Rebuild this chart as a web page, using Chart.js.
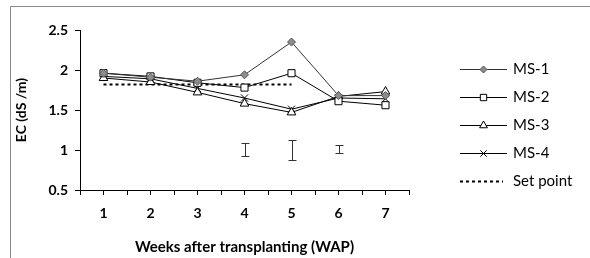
<!DOCTYPE html>
<html>
<head>
<meta charset="utf-8">
<script src="https://cdn.jsdelivr.net/npm/chart.js@4.4.1/dist/chart.umd.min.js"></script>
<style>
  html, body { margin: 0; padding: 0; background: #fff; }
  #wrap { width: 590px; height: 258px; position: relative; }
</style>
</head>
<body>
<div id="wrap"><canvas id="c" width="590" height="258"></canvas></div>
<script>
const weeks = [1, 2, 3, 4, 5, 6, 7];
const ms1 = [1.96, 1.91, 1.86, 1.94, 2.35, 1.68, 1.68];
const ms2 = [1.96, 1.92, 1.84, 1.78, 1.96, 1.61, 1.56];
const ms3 = [1.90, 1.85, 1.72, 1.58, 1.47, 1.67, 1.73];
const ms4 = [1.92, 1.89, 1.77, 1.65, 1.51, 1.65, 1.64];
const setPoint = [1.82, 1.82, 1.82, 1.82, 1.82, null, null];
const errWeeks = [4, 5, 6];
const errLow = [0.925, 0.88, 0.96];
const errHigh = [1.09, 1.13, 1.06];
const yTicks = [0.5, 1, 1.5, 2, 2.5];
const seriesNames = ['MS-1', 'MS-2', 'MS-3', 'MS-4', 'Set point'];

const FONT = 'Lato, "Open Sans", sans-serif';
const pts = arr => weeks.map((w, i) => ({x: w, y: arr[i]}));

const frame = {
  id: 'frame',
  beforeDraw(chart) {
    const ctx = chart.ctx;
    ctx.save();
    ctx.strokeStyle = '#8a8a8a';
    ctx.lineWidth = 1;
    ctx.beginPath();
    ctx.moveTo(10.5, 258);
    ctx.lineTo(10.5, 6.5);
    ctx.lineTo(590, 6.5);
    ctx.stroke();
    ctx.restore();
  }
};

const errorBars = {
  id: 'errorBars',
  afterDatasetsDraw(chart) {
    const ctx = chart.ctx;
    const xs = chart.scales.x, ys = chart.scales.y;
    ctx.save();
    ctx.strokeStyle = '#333';
    ctx.lineWidth = 1;
    errWeeks.forEach((w, i) => {
      const x = Math.round(xs.getPixelForValue(w)) + 0.5;
      const y1 = Math.round(ys.getPixelForValue(errHigh[i])) + 0.5;
      const y2 = Math.round(ys.getPixelForValue(errLow[i])) + 0.5;
      ctx.beginPath();
      ctx.moveTo(x, y1); ctx.lineTo(x, y2);
      ctx.moveTo(x - 4, y1); ctx.lineTo(x + 4, y1);
      ctx.moveTo(x - 4, y2); ctx.lineTo(x + 4, y2);
      ctx.stroke();
    });
    ctx.restore();
  }
};

const legendPlugin = {
  id: 'customLegend',
  afterDraw(chart) {
    const ctx = chart.ctx;
    const x0 = 460, x1 = 507, tx = 513;
    const ys = [69, 97, 125, 153, 181];
    ctx.save();
    chart.data.datasets.forEach((ds, i) => {
      const y = ys[i] + 0.5;
      ctx.strokeStyle = ds.borderColor;
      ctx.lineWidth = ds.borderWidth;
      ctx.setLineDash(ds.borderDash || []);
      ctx.beginPath();
      ctx.moveTo(x0, y); ctx.lineTo(x1 - (ds.borderDash ? 4 : 0), y);
      ctx.stroke();
      ctx.setLineDash([]);
      if (ds.pointRadius > 0) {
        ctx.fillStyle = ds.pointBackgroundColor;
        ctx.strokeStyle = ds.pointBorderColor;
        ctx.lineWidth = 1;
        Chart.helpers.drawPoint(ctx, {pointStyle: ds.pointStyle, radius: ds.pointRadius - 0.5, borderWidth: 1, rotation: 0}, (x0 + x1) / 2, y);
      }
      ctx.fillStyle = '#000';
      ctx.font = '15px ' + FONT;
      ctx.textBaseline = 'middle';
      ctx.textAlign = 'left';
      ctx.fillText(seriesNames[i], tx, y);
    });
    ctx.restore();
  }
};

const mk = (label, data, style, bg, border, radius, color) => ({
  label, data: pts(data), borderColor: color, borderWidth: 1,
  pointStyle: style, pointRadius: radius, pointHoverRadius: radius,
  pointBackgroundColor: bg, pointBorderColor: border, pointBorderWidth: 1,
  fill: false, tension: 0
});

const datasets = [
  mk(seriesNames[0], ms1, 'rectRot', '#8c8c8c', '#555', 4, '#333'),
  mk(seriesNames[1], ms2, 'rect', '#fff', '#000', 5, '#000'),
  mk(seriesNames[2], ms3, 'triangle', '#fff', '#000', 5, '#000'),
  mk(seriesNames[3], ms4, 'crossRot', '#000', '#000', 5, '#000'),
  {
    label: seriesNames[4], data: pts(setPoint), borderColor: '#000', borderWidth: 2,
    borderDash: [3, 3], pointRadius: 0, fill: false, spanGaps: false
  }
];

new Chart(document.getElementById('c'), {
  type: 'line',
  data: { datasets },
  plugins: [frame, errorBars, legendPlugin],
  options: {
    responsive: false,
    animation: false,
    events: [],
    layout: { padding: { left: 0, right: 181, top: 30, bottom: 0 } },
    plugins: { legend: { display: false }, tooltip: { enabled: false } },
    scales: {
      x: {
        type: 'linear', min: 0.5, max: 7.5,
        afterFit(s) { s.height = 68; },
        afterBuildTicks(s) {
          const t = [];
          for (let v = 0.5; v <= 7.5001; v += 0.5) t.push({value: v});
          s.ticks = t;
        },
        grid: { drawOnChartArea: false, drawTicks: true, tickLength: 5, color: '#000', tickColor: '#000' },
        border: { display: true, color: '#000', width: 1 },
        ticks: {
          autoSkip: false, maxRotation: 0, padding: 10,
          color: '#000', font: { family: FONT, size: 14, weight: 'bold' },
          callback: v => (weeks.includes(v) ? String(v) : '')
        },
        title: {
          display: true, text: 'Weeks after transplanting (WAP)',
          color: '#000', font: { family: FONT, size: 15, weight: 'bold' },
          padding: { top: 0, bottom: 2 }
        }
      },
      y: {
        min: 0.5, max: 2.5,
        afterFit(s) { s.width = 80; },
        afterBuildTicks(s) { s.ticks = yTicks.map(v => ({value: v})); },
        grid: { drawOnChartArea: false, drawTicks: true, tickLength: 5, color: '#000', tickColor: '#000' },
        border: { display: true, color: '#000', width: 1 },
        ticks: {
          padding: 7, color: '#000', font: { family: FONT, size: 14, weight: 'bold' },
          callback: v => String(v)
        },
        title: {
          display: true, text: 'EC (dS /m)',
          color: '#000', font: { family: FONT, size: 14, weight: 'bold' },
          padding: { top: 13, bottom: 0 }
        }
      }
    }
  }
});
</script>
</body>
</html>
